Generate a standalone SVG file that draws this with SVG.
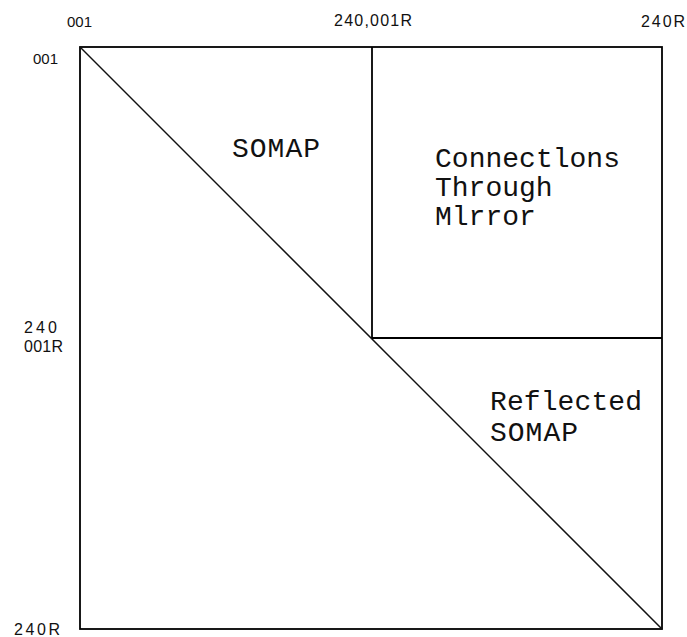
<svg xmlns="http://www.w3.org/2000/svg" width="687" height="637" viewBox="0 0 687 637">
<style>
.ln{stroke:#000;stroke-width:1.8;fill:none}
.dg{stroke:#111;stroke-width:1.5;fill:none}
.big{font-family:"Liberation Mono","DejaVu Sans Mono",monospace;font-size:28px;fill:#111}
.sm{font-family:"Liberation Sans",Arial,sans-serif;font-size:16px;fill:#111}
.sm2{font-family:"Liberation Sans",Arial,sans-serif;font-size:15px;fill:#111}
</style>
<rect width="687" height="637" fill="#fff"/>
<g id="frame">
<rect class="ln" x="80" y="47" width="582" height="582"/>
</g>
<g id="connectors">
<line class="dg" x1="80" y1="47" x2="662" y2="629"/>
<line class="ln" x1="372" y1="47" x2="372" y2="338"/>
<line class="ln" x1="372" y1="338" x2="662" y2="338"/>
</g>
<g id="axis-labels">
<text class="sm2" x="67" y="27">001</text>
<text class="sm" x="334" y="26" textLength="78" lengthAdjust="spacing">240,001R</text>
<text class="sm" x="641" y="27" textLength="44" lengthAdjust="spacing">240R</text>
<text class="sm2" x="33" y="64">001</text>
<text class="sm" x="24" y="333" textLength="33" lengthAdjust="spacing">240</text>
<text class="sm" x="24" y="352" textLength="39" lengthAdjust="spacing">001R</text>
<text class="sm" x="14" y="635" textLength="46" lengthAdjust="spacing">240R</text>
</g>
<g id="somap">
<text class="big" x="232" y="157" textLength="88" lengthAdjust="spacing">SOMAP</text>
</g>
<g id="mirror">
<text class="big" x="435" y="167" textLength="185" lengthAdjust="spacing">Connectlons</text>
<text class="big" x="435" y="196">Through</text>
<text class="big" x="435" y="225">Mlrror</text>
</g>
<g id="reflected">
<text class="big" x="490" y="410" textLength="152" lengthAdjust="spacing">Reflected</text>
<text class="big" x="490" y="441" textLength="88" lengthAdjust="spacing">SOMAP</text>
</g>
</svg>
